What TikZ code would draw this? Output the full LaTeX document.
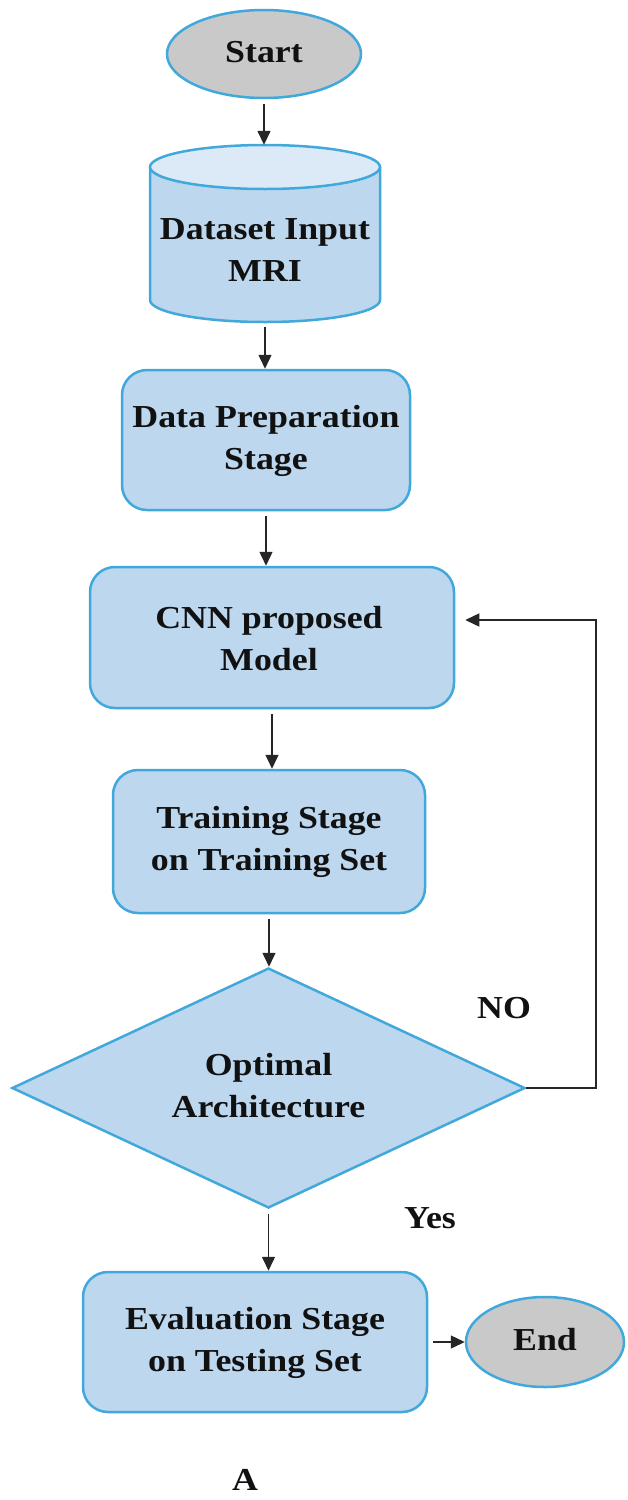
\documentclass[tikz,border=0pt]{standalone}
\usepackage{graphicx}
\usepackage{fontspec}
\setmainfont{Liberation Serif}
\usetikzlibrary{shapes.geometric,arrows.meta}
\definecolor{boxfill}{HTML}{BDD7EE}
\definecolor{boxline}{HTML}{41A8DC}
\definecolor{topfill}{HTML}{DCEAF7}
\definecolor{ovalfill}{HTML}{C9C9C9}
\definecolor{txt}{HTML}{111111}
\newcommand{\tx}[1]{\scalebox{1.12}[1]{\begin{tabular}{@{}c@{}}#1\end{tabular}}}
\tikzset{
  base/.style={font=\fontsize{32}{42}\selectfont\bfseries, text=txt, inner sep=0pt},
  stagebox/.style={base, rectangle, rounded corners=25pt, draw=boxline, line width=2.5pt, fill=boxfill},
  oval/.style={base, ellipse, draw=boxline, line width=2.5pt, fill=ovalfill},
  decision/.style={base, diamond, draw=boxline, line width=2.5pt, fill=boxfill, aspect=2.1},
  lbl/.style={base},
  flow/.style={draw=black!85, line width=1.4pt, -{Triangle[length=14pt,width=13pt]}, shorten <=5pt},
}
\begin{document}
\begin{tikzpicture}[x=1pt,y=-1pt]
\useasboundingbox (0,0) rectangle (627,1500);
% Start
\node[oval, minimum width=194pt, minimum height=88pt] (start) at (264,54) {\tx{Start}};
% Cylinder
\node[base, minimum width=230pt, minimum height=177pt] (cyl) at (265,233.5) {};
\fill[boxfill] (150,167) -- (150,300) .. controls (150,312.15) and (201.5,322) .. (265,322)
   .. controls (328.5,322) and (380,312.15) .. (380,300) -- (380,167) -- cycle;
\draw[boxline, line width=2.5pt] (150,167) -- (150,300) .. controls (150,312.15) and (201.5,322) .. (265,322)
   .. controls (328.5,322) and (380,312.15) .. (380,300) -- (380,167);
\draw[boxline, line width=2.5pt, fill=topfill] (265,167) ellipse [x radius=115, y radius=22];
\node[base] (cyltext) at (265,252) {\tx{Dataset Input\\MRI}};
% Boxes
\node[stagebox, minimum width=288pt, minimum height=140pt] (prep) at (266,440) {\tx{Data Preparation\\Stage}};
\node[stagebox, minimum width=364pt, minimum height=141pt] (cnn) at (272,637.5) {};
\node[base] (cnntext) at (269,641) {\tx{CNN proposed\\Model}};
\node[stagebox, minimum width=312pt, minimum height=143pt] (train) at (269,841.5) {\tx{Training Stage\\on Training Set}};
\node[decision, minimum width=513pt, minimum height=240pt] (dec) at (268.5,1088) {\tx{Optimal\\Architecture}};
\node[stagebox, minimum width=344pt, minimum height=140pt] (eval) at (255,1342) {\tx{Evaluation Stage\\on Testing Set}};
\node[oval, minimum width=158pt, minimum height=90pt] (end) at (545,1342) {\tx{End}};
% Labels
\node[lbl] (no) at (504,1010) {\tx{NO}};
\node[lbl] (yes) at (430,1220) {\tx{Yes}};
\node[lbl] (capA) at (245,1482) {\tx{A}};
% Connectors
\draw[flow] (start.south) -- (start.south |- cyl.north);
\draw[flow] (cyl.south) -- (cyl.south |- prep.north);
\draw[flow] (prep.south) -- (prep.south |- cnn.north);
\draw[flow] (cnn.south) -- (cnn.south |- train.north);
\draw[flow] (train.south) -- (train.south |- dec.north);
\draw[flow] (dec.south) -- (dec.south |- eval.north);
\draw[flow] (eval.east) -- (end.west);
\coordinate (loop) at (596,620);
\draw[flow, shorten <=0pt, shorten >=10pt] (dec.east) -- (dec.east -| loop) -- (loop) -- (loop -| cnn.east);
\end{tikzpicture}
\end{document}
